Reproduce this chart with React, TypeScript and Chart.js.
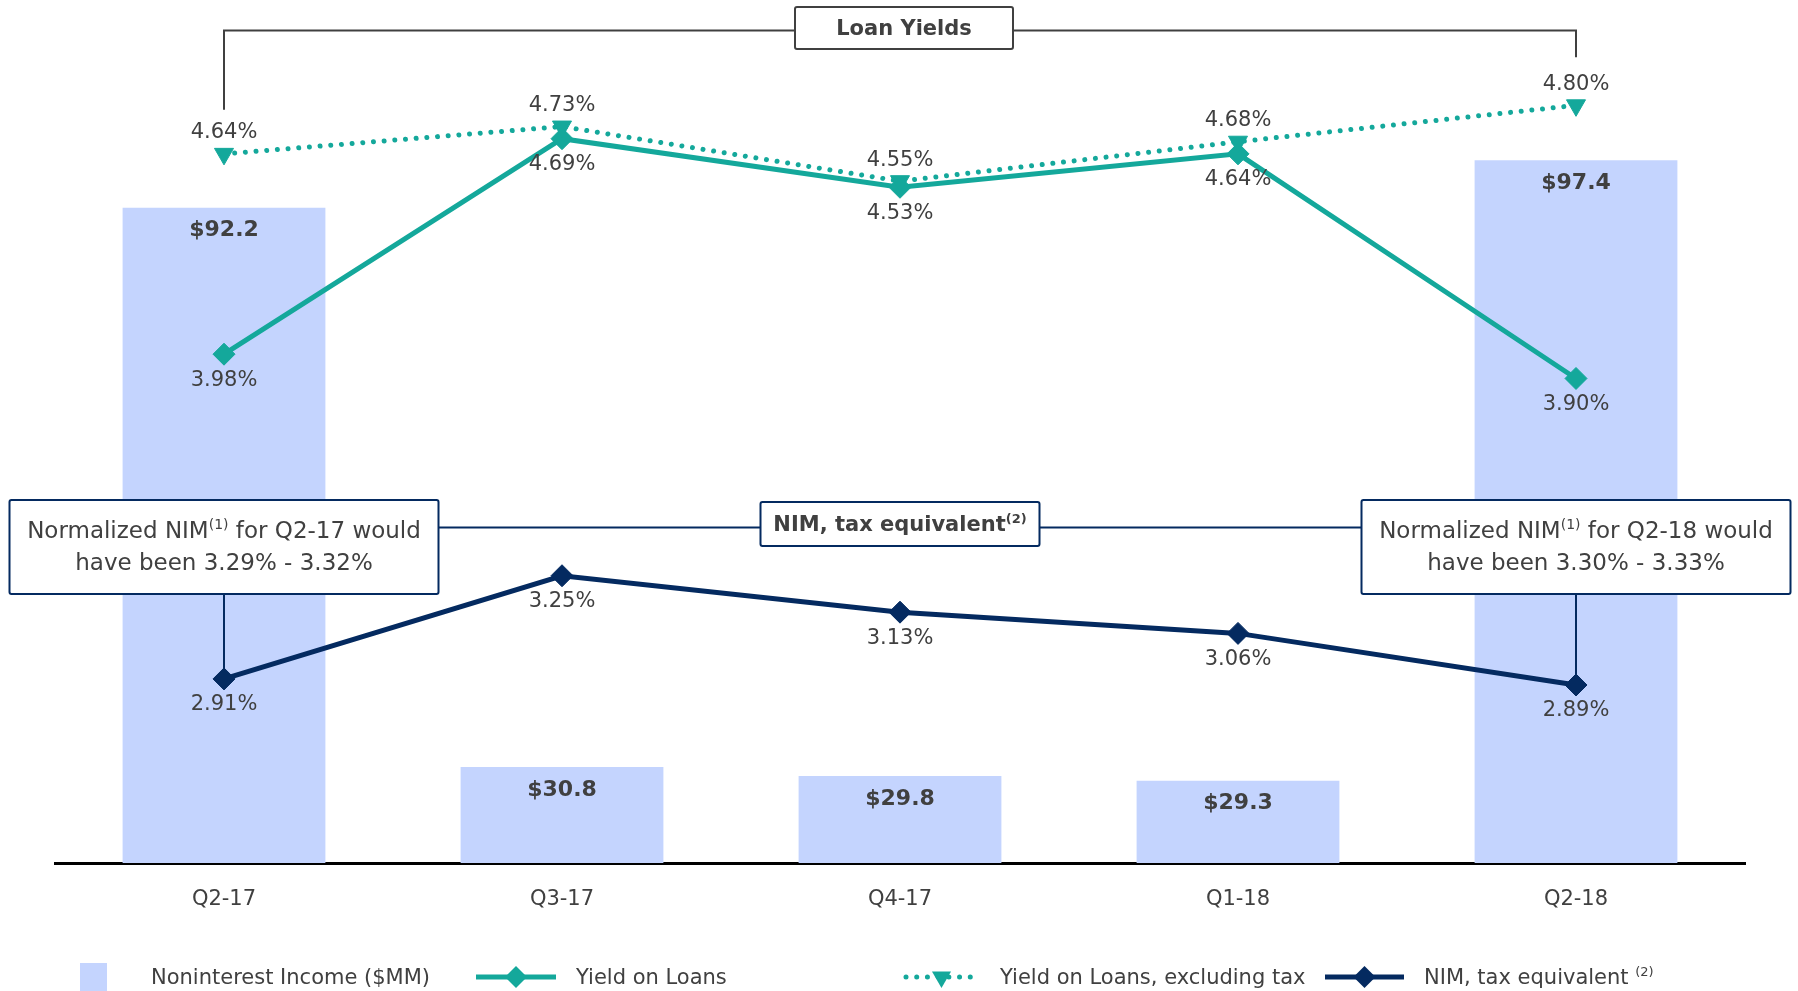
import React, { useEffect, useRef } from "react";
import { Chart, registerables } from "chart.js";

Chart.register(...registerables);

// ---------- data ----------
const categories = ["Q2-17", "Q3-17", "Q4-17", "Q1-18", "Q2-18"];
const noninterestIncome = [92.2, 30.8, 29.8, 29.3, 97.4];
const yieldOnLoans = [3.98, 4.69, 4.53, 4.64, 3.9];
const yieldExTax = [4.64, 4.73, 4.55, 4.68, 4.8];
const nimTaxEquivalent = [2.91, 3.25, 3.13, 3.06, 2.89];
const normalizedNimQuarters = ["Q2-17", "Q2-18"];
const normalizedNimRanges = ["3.29% - 3.32%", "3.30% - 3.33%"];

// ---------- style ----------
const FONT = '"DejaVu Sans", "Liberation Sans", sans-serif';
const TEXT = "#404040";
const TEAL = "#14a89b";
const NAVY = "#042a60";
const BAR = "#c4d4fe";
const TDY = 2; // small vertical nudge for text

type Part = { text: string; sup?: boolean };

function drawParts(ctx: CanvasRenderingContext2D, parts: Part[], cx: number, cy: number, size: number, bold: boolean, align: "center" | "left" = "center") {
  const w = bold ? "bold " : "";
  const main = `${w}${size}px ${FONT}`;
  const sup = `${w}${Math.round(size * 0.62)}px ${FONT}`;
  let total = 0;
  const widths: number[] = [];
  for (const p of parts) {
    ctx.font = p.sup ? sup : main;
    const m = ctx.measureText(p.text).width;
    widths.push(m);
    total += m;
  }
  let x = align === "center" ? cx - total / 2 : cx;
  const y = cy + TDY;
  ctx.textAlign = "left";
  ctx.textBaseline = "middle";
  parts.forEach((p, i) => {
    ctx.font = p.sup ? sup : main;
    ctx.fillText(p.text, x, p.sup ? y - size * 0.3 : y);
    x += widths[i];
  });
}

function box(ctx: CanvasRenderingContext2D, x: number, y: number, w: number, h: number, stroke: string) {
  ctx.beginPath();
  (ctx as any).roundRect(x, y, w, h, 2);
  ctx.fillStyle = "#ffffff";
  ctx.fill();
  ctx.strokeStyle = stroke;
  ctx.lineWidth = 2;
  ctx.stroke();
}

const labelPlugin = {
  id: "valueLabels",
  afterDatasetsDraw(chart: any) {
    const ctx: CanvasRenderingContext2D = chart.ctx;
    ctx.save();
    chart.data.datasets.forEach((ds: any, di: number) => {
      const meta = chart.getDatasetMeta(di);
      meta.data.forEach((el: any, i: number) => {
        const v = ds.data[i];
        ctx.fillStyle = TEXT;
        ctx.textAlign = "center";
        ctx.textBaseline = "middle";
        if (ds.type === "line") {
          ctx.font = `21px ${FONT}`;
          const dy = ds.labelPos === "above" ? -23 : 24;
          ctx.fillText(`${v.toFixed(2)}%`, el.x, el.y + dy + TDY);
        } else {
          ctx.font = `bold 22px ${FONT}`;
          ctx.fillText(`$${v.toFixed(1)}`, el.x, el.y + 21 + TDY);
        }
      });
    });
    ctx.restore();
  },
};

const annotationPlugin = {
  id: "annotations",
  afterDatasetsDraw(chart: any) {
    const ctx: CanvasRenderingContext2D = chart.ctx;
    const xs = chart.scales.x;
    const last = categories.length - 1;
    const x0 = xs.getPixelForValue(0);
    const xN = xs.getPixelForValue(last);
    const mid = (x0 + xN) / 2;
    ctx.save();

    // Loan Yields bracket
    const ex = chart.getDatasetMeta(2).data;
    ctx.strokeStyle = TEXT;
    ctx.lineWidth = 2;
    ctx.beginPath();
    ctx.moveTo(x0, ex[0].y - 44);
    ctx.lineTo(x0, 30.5);
    ctx.lineTo(xN, 30.5);
    ctx.lineTo(xN, ex[last].y - 48);
    ctx.stroke();
    box(ctx, mid + 4 - 109, 7, 218, 42, TEXT);
    ctx.fillStyle = TEXT;
    drawParts(ctx, [{ text: "Loan Yields" }], mid + 4, 28, 21, true);

    // NIM bracket
    const nim = chart.getDatasetMeta(3).data;
    const bw = 429;
    const bTop = 500;
    const bH = 94;
    ctx.strokeStyle = NAVY;
    ctx.lineWidth = 2;
    ctx.beginPath();
    ctx.moveTo(x0 + bw / 2, 527.5);
    ctx.lineTo(xN - bw / 2, 527.5);
    ctx.moveTo(x0, bTop + bH);
    ctx.lineTo(x0, nim[0].y);
    ctx.moveTo(xN, bTop + bH);
    ctx.lineTo(xN, nim[last].y);
    ctx.stroke();

    box(ctx, mid - 139.5, 502, 279, 44, NAVY);
    ctx.fillStyle = TEXT;
    drawParts(ctx, [{ text: "NIM, tax equivalent" }, { text: "(2)", sup: true }], mid, 524, 21, true);

    [x0, xN].forEach((cx, k) => {
      box(ctx, cx - bw / 2, bTop, bw, bH, NAVY);
      ctx.fillStyle = TEXT;
      drawParts(ctx, [
        { text: "Normalized NIM" },
        { text: "(1)", sup: true },
        { text: ` for ${normalizedNimQuarters[k]} would` },
      ], cx, 530, 23, false);
      drawParts(ctx, [{ text: `have been ${normalizedNimRanges[k]}` }], cx, 562, 23, false);
    });
    ctx.restore();
  },
};

const legendPlugin = {
  id: "customLegend",
  afterDraw(chart: any) {
    const ctx: CanvasRenderingContext2D = chart.ctx;
    const ds = chart.data.datasets;
    const y = 977;
    ctx.save();
    // bar swatch
    ctx.fillStyle = ds[0].backgroundColor;
    ctx.fillRect(80, y - 14, 27, 28);
    ctx.fillStyle = TEXT;
    drawParts(ctx, [{ text: ds[0].label }], 151, y, 21, false, "left");

    const lineItem = (x1: number, x2: number, d: any, textX: number, extra?: Part[]) => {
      ctx.save();
      ctx.strokeStyle = d.borderColor;
      ctx.lineWidth = d.borderWidth;
      ctx.lineCap = d.borderCapStyle || "butt";
      ctx.setLineDash(d.borderDash || []);
      ctx.beginPath();
      ctx.moveTo(x1, y);
      ctx.lineTo(x2, y);
      ctx.stroke();
      ctx.restore();
      const cx = (x1 + x2) / 2;
      ctx.fillStyle = d.pointBackgroundColor;
      ctx.beginPath();
      if (d.pointStyle === "triangle") {
        const r = 11;
        ctx.moveTo(cx - r * 0.866, y - r * 0.5);
        ctx.lineTo(cx + r * 0.866, y - r * 0.5);
        ctx.lineTo(cx, y + r);
      } else {
        const r = 11;
        ctx.moveTo(cx, y - r);
        ctx.lineTo(cx + r, y);
        ctx.lineTo(cx, y + r);
        ctx.lineTo(cx - r, y);
      }
      ctx.closePath();
      ctx.fill();
      ctx.fillStyle = TEXT;
      drawParts(ctx, [{ text: d.label }, ...(extra || [])], textX, y, 21, false, "left");
    };
    lineItem(476, 556, ds[1], 576);
    lineItem(906, 977, ds[2], 1000);
    lineItem(1325, 1404, ds[3], 1424, [{ text: " " }, { text: "(2)", sup: true }]);
    ctx.restore();
  },
};

export default function App() {
  const ref = useRef<HTMLCanvasElement | null>(null);
  useEffect(() => {
    if (!ref.current) return;
    const chart = new Chart(ref.current, {
      type: "bar",
      data: {
        labels: categories,
        datasets: [
          {
            type: "bar",
            label: "Noninterest Income ($MM)",
            data: noninterestIncome,
            backgroundColor: BAR,
            barPercentage: 0.6,
            categoryPercentage: 1,
            yAxisID: "yBar",
            order: 10,
          } as any,
          {
            type: "line",
            label: "Yield on Loans",
            data: yieldOnLoans,
            borderColor: TEAL,
            backgroundColor: TEAL,
            borderWidth: 5,
            pointStyle: "rectRot",
            pointRadius: 11,
            pointBorderWidth: 1,
            pointBackgroundColor: TEAL,
            pointBorderColor: TEAL,
            tension: 0,
            yAxisID: "yPct",
            order: 3,
            labelPos: "below",
          } as any,
          {
            type: "line",
            label: "Yield on Loans, excluding tax",
            data: yieldExTax,
            borderColor: TEAL,
            backgroundColor: TEAL,
            borderWidth: 5,
            borderDash: [0.01, 10.7],
            borderCapStyle: "round",
            pointStyle: "triangle",
            pointRotation: 180,
            pointRadius: 11,
            pointBorderWidth: 1,
            pointBackgroundColor: TEAL,
            pointBorderColor: TEAL,
            tension: 0,
            yAxisID: "yPct",
            order: 2,
            labelPos: "above",
          } as any,
          {
            type: "line",
            label: "NIM, tax equivalent",
            data: nimTaxEquivalent,
            borderColor: NAVY,
            backgroundColor: NAVY,
            borderWidth: 5,
            pointStyle: "rectRot",
            pointRadius: 11,
            pointBorderWidth: 1,
            pointBackgroundColor: NAVY,
            pointBorderColor: NAVY,
            tension: 0,
            yAxisID: "yPct",
            order: 1,
            labelPos: "below",
          } as any,
        ],
      },
      options: {
        animation: false,
        responsive: true,
        maintainAspectRatio: false,
        layout: { padding: { left: 55, right: 53, top: 20, bottom: 0 } },
        plugins: {
          legend: { display: false },
          tooltip: { enabled: false },
          title: { display: false },
        },
        scales: {
          x: {
            type: "category",
            offset: true,
            grid: { display: false, drawTicks: false },
            border: { display: true, color: "#000000", width: 3 },
            ticks: {
              color: TEXT,
              font: { family: FONT, size: 21 },
              padding: 24,
            },
            afterFit: (s: any) => {
              s.height = 128;
            },
          },
          yBar: {
            type: "linear",
            display: false,
            position: "left",
            min: 20.26,
            max: 112.8,
          },
          yPct: {
            type: "linear",
            display: false,
            position: "right",
            min: 2.3035,
            max: 5.0811,
          },
        },
      } as any,
      plugins: [labelPlugin, annotationPlugin, legendPlugin],
    });
    return () => chart.destroy();
  }, []);

  return (
    <div style={{ position: "fixed", left: 0, top: 0, width: 1798, height: 991, background: "#ffffff" }}>
      <canvas ref={ref} />
    </div>
  );
}
